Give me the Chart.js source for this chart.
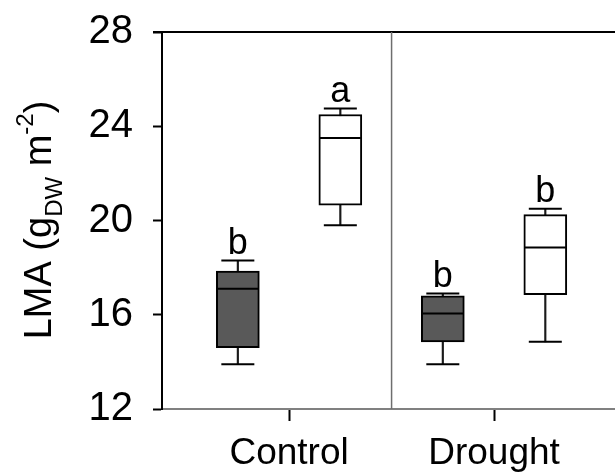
<!DOCTYPE html>
<html lang="en">
<head>
<meta charset="UTF-8" />
<title>LMA box plot</title>
<script src="https://cdn.jsdelivr.net/npm/chart.js"></script>
<style>
  html, body { margin: 0; padding: 0; background: #fff; overflow: hidden; }
</style>
</head>
<body>
<canvas id="myChart" width="615" height="473"></canvas>
<script>
// treatments on the x axis
const treatments = ["Control", "Drought"];
const yTicks = [12, 16, 20, 24, 28];

// dark boxes
const darkMin = [13.9, 13.9];
const darkQ1 = [14.6, 14.85];
const darkMedian = [17.1, 16.05];
const darkQ3 = [17.85, 16.8];
const darkMax = [18.3, 16.9];
const darkLetters = ["b", "b"];

// white boxes
const whiteMin = [19.8, 14.85];
const whiteQ1 = [20.65, 16.85];
const whiteMedian = [23.5, 18.85];
const whiteQ3 = [24.5, 20.25];
const whiteMax = [24.75, 20.5];
const whiteLetters = ["a", "b"];

const FONT = "Arial, 'Liberation Sans', sans-serif";
const groupOffset = 0.25; // dark left of tick, white right

function xs(side) {
  return treatments.map((t, i) => i + 1 + side * groupOffset);
}

function boxDatasets(side, mins, q1, med, q3, maxs, fill) {
  const x = xs(side);
  return [
    {
      type: "bar",
      order: 3,
      data: x.map((v, i) => ({ x: v, y: [mins[i], maxs[i]] })),
      backgroundColor: "#1a1a1a",
      borderWidth: 0,
      barThickness: 1.5,
      maxBarThickness: 1.5,
    },
    {
      type: "bar",
      order: 2,
      data: x.map((v, i) => ({ x: v, y: [q1[i], q3[i]] })),
      backgroundColor: fill,
      borderColor: "#000",
      borderWidth: 2,
      borderSkipped: false,
      barThickness: 43,
      maxBarThickness: 43,
    },
    {
      type: "scatter",
      order: 1,
      data: x.flatMap((v, i) => [{ x: v, y: mins[i] }, { x: v, y: maxs[i] }]),
      pointStyle: "line",
      radius: 16.5,
      hoverRadius: 16.5,
      borderColor: "#000",
      borderWidth: 2,
    },
    {
      type: "scatter",
      order: 0,
      data: x.map((v, i) => ({ x: v, y: med[i] })),
      pointStyle: "line",
      radius: 20.5,
      hoverRadius: 20.5,
      borderColor: "#000",
      borderWidth: 2,
    },
  ];
}

const datasets = [
  ...boxDatasets(-1, darkMin, darkQ1, darkMedian, darkQ3, darkMax, "#595959"),
  ...boxDatasets(1, whiteMin, whiteQ1, whiteMedian, whiteQ3, whiteMax, "#ffffff"),
];

// top frame line + divider between treatments
const framePlugin = {
  id: "frame",
  beforeDatasetsDraw(chart) {
    const { ctx, chartArea, scales } = chart;
    ctx.save();
    ctx.strokeStyle = "#000";
    ctx.lineWidth = 2;
    ctx.beginPath();
    ctx.moveTo(chartArea.left - 9, chartArea.top);
    ctx.lineTo(chartArea.right, chartArea.top);
    ctx.stroke();
    const xd = scales.x.getPixelForValue(1.5);
    ctx.strokeStyle = "#6e6e6e";
    ctx.lineWidth = 1.5;
    ctx.beginPath();
    ctx.moveTo(xd, chartArea.top);
    ctx.lineTo(xd, chartArea.bottom);
    ctx.stroke();
    ctx.restore();
  },
};

// significance letters above each box
const letterPlugin = {
  id: "letters",
  afterDatasetsDraw(chart) {
    const { ctx, scales } = chart;
    ctx.save();
    ctx.font = "36px " + FONT;
    ctx.fillStyle = "#000";
    ctx.textAlign = "center";
    ctx.textBaseline = "alphabetic";
    const put = (side, maxs, letters) => {
      xs(side).forEach((v, i) => {
        ctx.fillText(letters[i], scales.x.getPixelForValue(v), scales.y.getPixelForValue(maxs[i]) - 7);
      });
    };
    put(-1, darkMax, darkLetters);
    put(1, whiteMax, whiteLetters);
    ctx.restore();
  },
};

// y title with subscript / superscript
const yTitlePlugin = {
  id: "yTitle",
  afterDraw(chart) {
    const { ctx } = chart;
    const parts = [
      ["LMA (g", 38, 0],
      ["DW", 24, 11],
      [" m", 38, 0],
      ["-2", 24, -18],
      [")", 38, 0],
    ];
    ctx.save();
    ctx.fillStyle = "#000";
    ctx.textBaseline = "alphabetic";
    let total = 0;
    parts.forEach((p) => {
      ctx.font = p[1] + "px " + FONT;
      total += ctx.measureText(p[0]).width;
    });
    ctx.translate(51, 220);
    ctx.rotate(-Math.PI / 2);
    let pos = -total / 2;
    parts.forEach((p) => {
      ctx.font = p[1] + "px " + FONT;
      ctx.fillText(p[0], pos, p[2]);
      pos += ctx.measureText(p[0]).width;
    });
    ctx.restore();
  },
};

const ctx = document.getElementById("myChart").getContext("2d");
const myChart = new Chart(ctx, {
  type: "bar",
  data: { datasets },
  plugins: [framePlugin, letterPlugin, yTitlePlugin],
  options: {
    responsive: false,
    animation: false,
    events: [],
    grouped: false,
    layout: { autoPadding: false, padding: { top: 32, right: 0, left: 0, bottom: 0 } },
    plugins: { legend: { display: false }, tooltip: { enabled: false } },
    scales: {
      x: {
        type: "linear",
        min: 0.38,
        max: 2.59,
        offset: false,
        afterBuildTicks: (scale) => {
          scale.ticks = treatments.map((t, i) => ({ value: i + 1 }));
        },
        afterFit: (scale) => {
          scale.height = 64;
          scale.paddingLeft = 0;
          scale.paddingRight = 0;
        },
        ticks: {
          callback: (v, i) => treatments[i],
          font: { family: FONT, size: 37 },
          color: "#000",
          padding: 11,
          maxRotation: 0,
        },
        grid: {
          offset: false,
          drawOnChartArea: false,
          drawTicks: true,
          tickLength: 12,
          tickColor: "#000",
          tickWidth: 2,
        },
        border: { display: true, color: "#808080", width: 2 },
      },
      y: {
        min: 12,
        max: 28,
        afterBuildTicks: (scale) => {
          scale.ticks = yTicks.map((v) => ({ value: v }));
        },
        afterFit: (scale) => {
          scale.width = 162;
          scale.paddingTop = 0;
          scale.paddingBottom = 0;
        },
        ticks: {
          font: { family: FONT, size: 40 },
          color: "#000",
          padding: 20,
        },
        grid: {
          drawOnChartArea: false,
          drawTicks: true,
          tickLength: 9,
          tickColor: "#000",
          tickWidth: 2,
        },
        border: { display: true, color: "#000", width: 2 },
      },
    },
  },
});
</script>
</body>
</html>
